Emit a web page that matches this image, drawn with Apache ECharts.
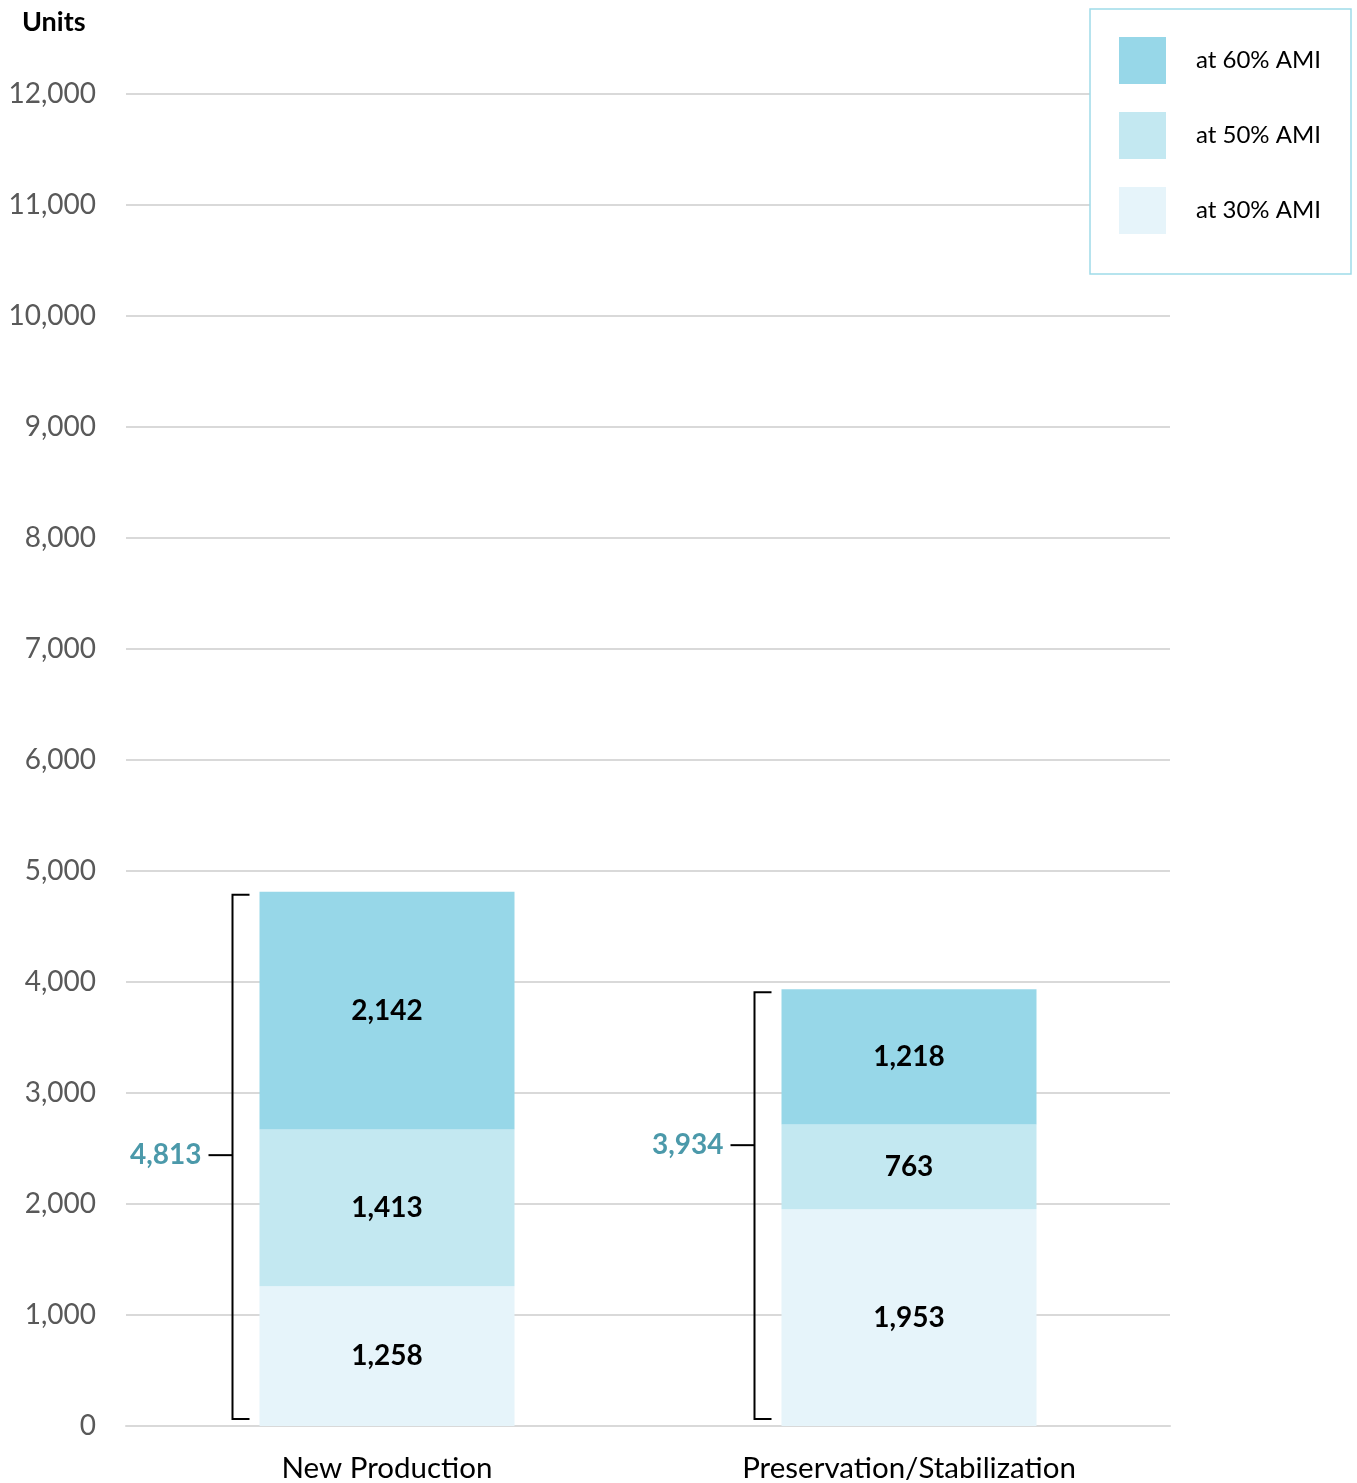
<!DOCTYPE html>
<html>
<head>
<meta charset="utf-8">
<script src="https://cdn.jsdelivr.net/npm/echarts@6/dist/echarts.min.js"></script>
<style>
  html, body { margin: 0; padding: 0; background: #fff; }
  #main { width: 1357px; height: 1483px; }
</style>
</head>
<body>
<div id="main"></div>
<script>
// data
let categories = ['New Production', 'Preservation/Stabilization'];
let ami30 = [1258, 1953];
let ami50 = [1413, 763];
let ami60 = [2142, 1218];
// where the total label sits along the bracket (axis value)
let totalLabelAt = [2440, 2530];
let yTicks = [0, 12000, 1000];

let totals = categories.map(function (c, i) {
    return ami30[i] + ami50[i] + ami60[i];
});

let chart = echarts.init(document.getElementById('main'));
let FONT = 'Lato, "Open Sans", sans-serif';
let barW = 255;

function fmt(v) {
    return v.toLocaleString('en-US');
}

let barLabel = {
    show: true,
    position: 'inside',
    color: '#000',
    fontFamily: FONT,
    fontWeight: 'bold',
    fontSize: 28,
    formatter: function (p) { return fmt(p.value); }
};

let option = {
    backgroundColor: '#fff',
    animation: false,
    title: {
        text: 'Units',
        left: 17,
        top: 4,
        textStyle: { fontFamily: FONT, fontWeight: 'bold', fontSize: 27, color: '#000' }
    },
    legend: {
        orient: 'vertical',
        right: 6,
        top: 9,
        data: ['at 60% AMI', 'at 50% AMI', 'at 30% AMI'],
        itemWidth: 47,
        itemHeight: 47,
        itemGap: 28,
        padding: [28, 30, 40, 29],
        borderColor: '#9fdbe9',
        borderWidth: 1.5,
        backgroundColor: '#fff',
        icon: 'rect',
        textStyle: { fontFamily: FONT, fontSize: 24, color: '#000', padding: [0, 0, 0, 25] }
    },
    grid: { left: 126, right: 187, top: 94, bottom: 55 },
    xAxis: {
        type: 'category',
        data: categories,
        axisLine: { lineStyle: { color: '#d9d9d9', width: 2 } },
        axisTick: { show: false },
        axisLabel: { fontFamily: FONT, fontSize: 29.5, color: '#000', margin: 27 }
    },
    yAxis: {
        type: 'value',
        min: yTicks[0],
        max: yTicks[1],
        interval: yTicks[2],
        axisLine: { show: false },
        axisTick: { show: false },
        splitLine: { lineStyle: { color: '#d9d9d9', width: 2 } },
        axisLabel: {
            fontFamily: FONT, fontSize: 28, color: '#595959', margin: 30,
            formatter: function (v) { return fmt(v); }
        }
    },
    series: [
        {
            name: 'at 30% AMI', type: 'bar', stack: 'u', barWidth: barW,
            itemStyle: { color: '#e6f4fa' }, label: barLabel, data: ami30
        },
        {
            name: 'at 50% AMI', type: 'bar', stack: 'u', barWidth: barW,
            itemStyle: { color: '#c3e8f1' }, label: barLabel, data: ami50
        },
        {
            name: 'at 60% AMI', type: 'bar', stack: 'u', barWidth: barW,
            itemStyle: { color: '#97d7e8' }, label: barLabel, data: ami60
        },
        {
            // brackets with totals
            type: 'custom',
            silent: true,
            z: 5,
            data: totals.map(function (t, i) { return [i, t, totalLabelAt[i]]; }),
            renderItem: function (params, api) {
                let top = api.coord([api.value(0), api.value(1)]);
                let base = api.coord([api.value(0), 0]);
                let mid = api.coord([api.value(0), api.value(2)]);
                let xb = top[0] - barW / 2 - 27;
                let xt = top[0] - barW / 2 - 10;
                let yTop = top[1] + 3;
                let yBot = base[1] - 7;
                let ls = { stroke: '#000', lineWidth: 2, fill: null };
                return {
                    type: 'group',
                    children: [
                        { type: 'polyline', shape: { points: [[xt, yTop], [xb, yTop], [xb, yBot], [xt, yBot]] }, style: ls },
                        { type: 'line', shape: { x1: xb - 24, y1: mid[1], x2: xb, y2: mid[1] }, style: ls },
                        {
                            type: 'text',
                            x: xb - 31,
                            y: mid[1],
                            style: {
                                text: fmt(api.value(1)),
                                fill: '#4b99aa',
                                font: 'bold 28px ' + FONT,
                                align: 'right',
                                verticalAlign: 'middle'
                            }
                        }
                    ]
                };
            }
        }
    ]
};

chart.setOption(option);
</script>
</body>
</html>
